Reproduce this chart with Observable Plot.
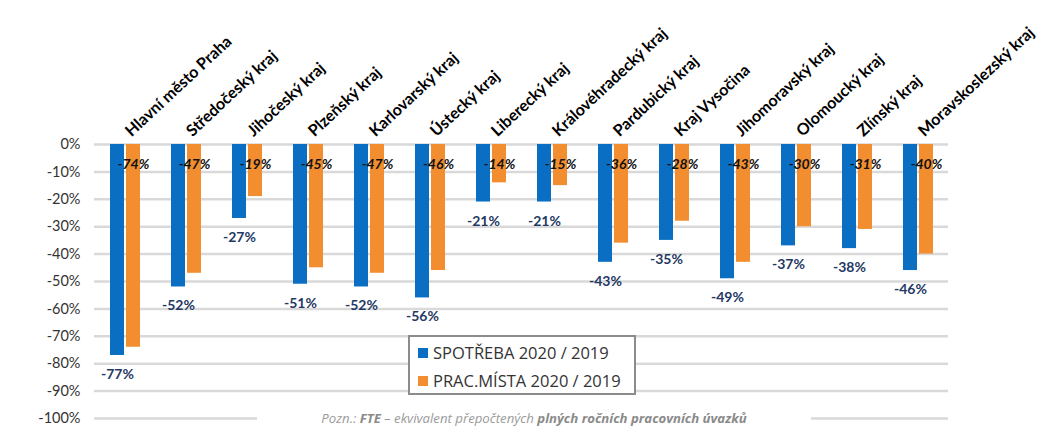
<!DOCTYPE html>
<html><head><meta charset="utf-8">
<script src="https://cdn.jsdelivr.net/npm/d3@7"></script>
<script src="https://cdn.jsdelivr.net/npm/@observablehq/plot@0.6"></script>
<style>
body{margin:0;background:#fff;}
#wrap{position:relative;width:1044px;height:428px;}
#legend{position:absolute;left:408px;top:335px;width:228px;height:60px;border:2px solid #8c8c8c;background:#fff;box-sizing:border-box;font-family:"Open Sans",sans-serif;font-size:16.5px;color:#333;}
#legend .row{position:absolute;left:8px;display:flex;align-items:center;white-space:nowrap;}
#legend .sw{width:10px;height:10px;margin-right:5px;display:inline-block;}
#note{position:absolute;left:257px;width:554px;top:409px;height:18px;line-height:18px;background:#fff;text-align:center;font-family:"Open Sans",sans-serif;font-style:italic;font-size:13.2px;color:#9a9a9a;}
#note b{color:#8a8a8a;}
</style></head><body><div id="wrap"></div>
<script>
const regions = ["Hlavní město Praha","Středočeský kraj","Jihočeský kraj","Plzeňský kraj","Karlovarský kraj","Ústecký kraj","Liberecký kraj","Královéhradecký kraj","Pardubický kraj","Kraj Vysočina","Jihomoravský kraj","Olomoucký kraj","Zlínský kraj","Moravskoslezský kraj"];
const seriesNames = ["SPOTŘEBA 2020 / 2019","PRAC.MÍSTA 2020 / 2019"];
const spotreba = [-77,-52,-27,-51,-52,-56,-21,-21,-43,-35,-49,-37,-38,-46];
const pracMista = [-74,-47,-19,-45,-47,-46,-14,-15,-36,-28,-43,-30,-31,-40];
const yTicks = [0,-10,-20,-30,-40,-50,-60,-70,-80,-90,-100];
const colors = ["#0a6fc2","#f28e2f"];
const noteText = ["Pozn.: ","FTE"," – ekvivalent přepočtených ","plných ročních pracovních úvazků"];

const data = regions.flatMap((r,i)=>[
  {region:r, series:seriesNames[0], value:spotreba[i]},
  {region:r, series:seriesNames[1], value:pracMista[i]}
]);

const chart = Plot.plot({
  width:1044, height:428,
  marginLeft:90, marginRight:92, marginTop:144, marginBottom:10,
  style:{fontFamily:"Lato, sans-serif", background:"white", overflow:"visible"},
  fx:{domain:regions, padding:0, axis:null},
  x:{domain:seriesNames, axis:null, paddingInner:0.15, paddingOuter:0.886},
  y:{domain:[-100,0], axis:null},
  color:{domain:seriesNames, range:colors},
  marks:[
    Plot.gridY({ticks:yTicks, stroke:"#d9d9d9", strokeOpacity:1, strokeWidth:2.5}),
    Plot.axisY({ticks:yTicks, tickSize:0, tickPadding:14, tickFormat:d=>d+"%", fontSize:14.5, fill:"#333", label:null}),
    Plot.axisFx({anchor:"top", tickRotate:-43, tickSize:0, tickPadding:11, dx:3, fontSize:16, fontWeight:"bold", fill:"#000", label:null}),
    Plot.barY(data,{fx:"region", x:"series", y:"value", fill:"series"}),
    Plot.text(data.filter(d=>d.series===seriesNames[0]),{fx:"region", x:"series", y:"value", dy:19, text:d=>d.value+"%", fontWeight:"bold", fontSize:14, fill:"#1f3864"}),
    Plot.text(data.filter(d=>d.series===seriesNames[1]),{fx:"region", x:"series", frameAnchor:"top", dy:15, text:d=>d.value+"%", fontWeight:"bold", fontStyle:"italic", fontSize:14, fill:"#111"})
  ]
});

const wrap = document.getElementById("wrap");
wrap.appendChild(chart);

const legend = document.createElement("div");
legend.id = "legend";
seriesNames.forEach((s,i)=>{
  const row = document.createElement("div");
  row.className = "row";
  row.style.top = (i===0 ? 4 : 32) + "px";
  const sw = document.createElement("span");
  sw.className = "sw"; sw.style.background = colors[i];
  row.appendChild(sw);
  row.appendChild(document.createTextNode(s));
  legend.appendChild(row);
});
wrap.appendChild(legend);

const note = document.createElement("div");
note.id = "note";
noteText.forEach((t,i)=>{
  const el = document.createElement(i%2===1 ? "b" : "span");
  el.textContent = t;
  note.appendChild(el);
});
wrap.appendChild(note);
</script></body></html>
